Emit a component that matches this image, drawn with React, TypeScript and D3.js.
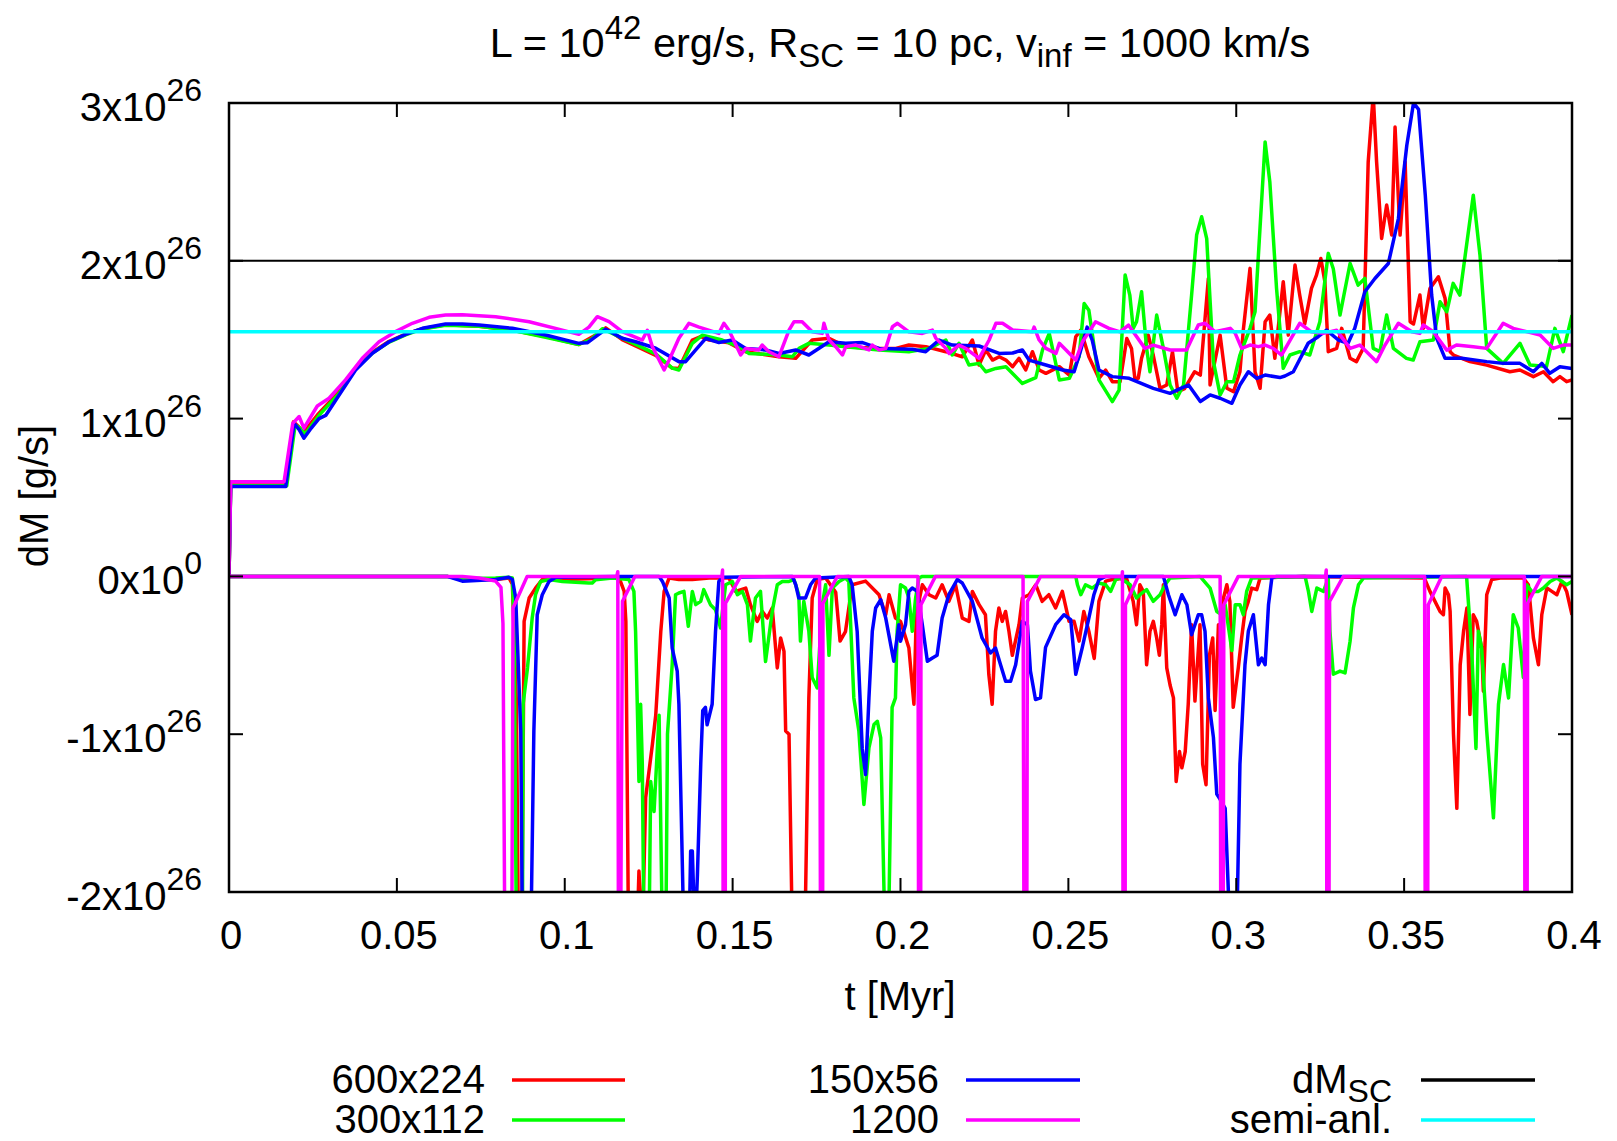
import React, { useEffect } from "react";
import * as d3 from "d3";

// ---------- data (t in Myr, dM in units of 1e26 g/s) ----------
const xTicks = [0, 0.05, 0.1, 0.15, 0.2, 0.25, 0.3, 0.35, 0.4];
const xTickLabels = ["0", "0.05", "0.1", "0.15", "0.2", "0.25", "0.3", "0.35", "0.4"];
const yTicks = [-2, -1, 0, 1, 2, 3];
const yTickMantissa = ["-2x10", "-1x10", "0x10", "1x10", "2x10", "3x10"];
const yTickExponent = ["26", "26", "0", "26", "26", "26"];

const dMSC = 2.0;
const semiAnl = 1.55;

const redPos: [number, number][] = [
  [0, 0], [0.0005, 0.58], [0.0169, 0.58], [0.0192, 0.98], [0.0207, 0.95], [0.0221, 0.91], [0.0266, 1.03],
  [0.0328, 1.17], [0.0377, 1.32], [0.0427, 1.42], [0.0477, 1.49], [0.0526, 1.535], [0.0576, 1.57],
  [0.0645, 1.595], [0.0745, 1.585], [0.0844, 1.56], [0.0943, 1.52], [0.1042, 1.47], [0.1092, 1.53],
  [0.1122, 1.575], [0.1171, 1.5], [0.1211, 1.46], [0.1271, 1.4], [0.132, 1.32], [0.134, 1.318],
  [0.138, 1.498], [0.1405, 1.519], [0.143, 1.498], [0.1489, 1.48], [0.1539, 1.424], [0.1638, 1.392],
  [0.1688, 1.382], [0.1737, 1.498], [0.1787, 1.509], [0.1837, 1.456], [0.1936, 1.445], [0.1986, 1.445],
  [0.2025, 1.466], [0.2075, 1.456], [0.2135, 1.424], [0.2184, 1.392], [0.2214, 1.498], [0.2234, 1.34],
  [0.2254, 1.435], [0.2274, 1.371], [0.2294, 1.392], [0.2314, 1.371], [0.2334, 1.329], [0.2353, 1.382],
  [0.2373, 1.308], [0.2393, 1.424], [0.2413, 1.308], [0.2433, 1.287], [0.2473, 1.329], [0.2503, 1.276],
  [0.2522, 1.519], [0.2537, 1.561], [0.2561, 1.392], [0.2591, 1.255], [0.2611, 1.308], [0.2631, 1.234],
  [0.2654, 1.234], [0.2674, 1.508], [0.2688, 1.445], [0.2698, 1.255], [0.2708, 1.255], [0.2718, 1.382],
  [0.2738, 1.529], [0.2753, 1.4], [0.2773, 1.192], [0.2793, 1.213], [0.281, 1.424], [0.2826, 1.171],
  [0.2846, 1.19], [0.2876, 1.297], [0.2893, 1.276], [0.2917, 1.888], [0.2922, 1.213], [0.2952, 1.529],
  [0.2972, 1.192], [0.2992, 1.171], [0.3011, 1.297], [0.3021, 1.561], [0.3041, 1.952], [0.3056, 1.297],
  [0.3071, 1.192], [0.3086, 1.614], [0.31, 1.656], [0.3115, 1.382], [0.314, 1.867], [0.3155, 1.529],
  [0.3175, 1.973], [0.3189, 1.783], [0.3204, 1.6], [0.3224, 1.825], [0.3239, 1.909], [0.3252, 2.015],
  [0.3264, 1.867], [0.3274, 1.424], [0.3299, 1.445], [0.3314, 1.572], [0.3339, 1.382], [0.3358, 1.361],
  [0.3378, 1.445], [0.3393, 2.627], [0.3408, 3.05], [0.3418, 2.627], [0.3433, 2.142], [0.3448, 2.353],
  [0.3463, 2.163], [0.3473, 2.848], [0.3488, 2.163], [0.3503, 2.627], [0.3518, 1.614], [0.3528, 1.6],
  [0.3547, 1.783], [0.3557, 1.572], [0.3577, 1.825], [0.3602, 1.899], [0.3622, 1.762], [0.3637, 1.424],
  [0.3647, 1.403], [0.3696, 1.361], [0.3746, 1.339], [0.3815, 1.297], [0.3845, 1.308], [0.3885, 1.266],
  [0.3915, 1.297], [0.3944, 1.234], [0.3964, 1.266], [0.3984, 1.234], [0.4, 1.245],
];

const redNeg: [number, number][] = [
  [0, 0], [0.065, 0], [0.0695, -0.02], [0.0794, -0.02], [0.0834, -0.01], [0.0844, -0.05], [0.0856, -0.8],
  [0.0862, -2.3], [0.0872, -2.3], [0.0879, -0.285], [0.0894, -0.137], [0.0913, -0.074], [0.0933, -0.02],
  [0.0953, -0.01], [0.0993, -0.02], [0.1142, -0.01], [0.1162, -0.01], [0.1177, -0.095], [0.1182, -0.285],
  [0.119, -2.3], [0.1215, -2.3], [0.1221, -1.867], [0.1231, -2.3], [0.1241, -1.403], [0.1261, -1.065],
  [0.1271, -0.88], [0.1286, -0.35], [0.1296, -0.095], [0.1311, -0.01], [0.134, -0.02],
  [0.138, -0.02], [0.143, -0.01], [0.1489, -0.01], [0.1509, -0.095], [0.1539, -0.074], [0.1553, -0.179],
  [0.1573, -0.285], [0.1588, -0.222], [0.1603, -0.264], [0.1618, -0.2], [0.1633, -0.58], [0.1643, -0.39],
  [0.1653, -0.475], [0.1658, -0.98], [0.1668, -1.0], [0.1678, -2.3], [0.1715, -2.3], [0.1727, -0.77],
  [0.1737, -0.137], [0.1752, -0.02], [0.1777, -0.01], [0.1807, -0.1], [0.182, -0.41], [0.1836, -0.35],
  [0.1856, -0.053], [0.1896, -0.03], [0.1936, -0.116], [0.1956, -0.243], [0.1966, -0.116], [0.1985, -0.264],
  [0.2, -0.285], [0.2025, -0.454], [0.204, -0.81], [0.2047, -0.243], [0.2065, -0.053], [0.2085, -0.116],
  [0.2105, -0.137], [0.2124, -0.053], [0.2144, -0.158], [0.2164, -0.053], [0.2184, -0.264], [0.2204, -0.285],
  [0.2214, -0.095], [0.2234, -0.179], [0.2253, -0.243], [0.2263, -0.62], [0.2273, -0.81], [0.2283, -0.348],
  [0.2293, -0.2], [0.2303, -0.285], [0.2313, -0.222], [0.2323, -0.348], [0.2333, -0.5], [0.2353, -0.306],
  [0.2363, -0.137], [0.2383, -0.116], [0.2403, -0.053], [0.2422, -0.158], [0.2442, -0.116], [0.2462, -0.2],
  [0.2482, -0.095], [0.2502, -0.285], [0.2517, -0.285], [0.2532, -0.41], [0.2546, -0.222], [0.2561, -0.348],
  [0.2577, -0.52], [0.2591, -0.158], [0.2611, -0.03], [0.2631, -0.02], [0.2673, -0.01], [0.2693, -0.158],
  [0.2703, -0.306], [0.2713, -0.053], [0.2723, -0.095], [0.2733, -0.56], [0.2743, -0.348], [0.2753, -0.285],
  [0.2763, -0.39], [0.2771, -0.5], [0.2778, -0.306], [0.2783, -0.053], [0.2793, -0.58], [0.2803, -0.69],
  [0.2813, -0.77], [0.2821, -1.3], [0.2831, -1.11], [0.2838, -1.213], [0.2848, -1.11], [0.2857, -0.81],
  [0.2867, -0.306], [0.2877, -0.79], [0.2892, -0.306], [0.29, -1.19], [0.291, -1.32], [0.292, -0.5],
  [0.293, -0.39], [0.2937, -0.85], [0.2947, -0.306], [0.2952, -0.348], [0.2962, -0.137], [0.2972, -0.053],
  [0.2981, -0.158], [0.2991, -0.83], [0.3006, -0.58], [0.3016, -0.39], [0.3026, -0.222], [0.3036, -0.158],
  [0.3046, -0.074], [0.3061, -0.084], [0.3071, -0.01], [0.32, 0], [0.356, -0.01], [0.3577, -0.095],
  [0.3607, -0.222], [0.3617, -0.243], [0.3622, -0.074], [0.3632, -0.116], [0.3637, -0.222], [0.3647, -1.0],
  [0.3657, -1.47], [0.3667, -0.56], [0.3677, -0.348], [0.3687, -0.2], [0.3696, -0.875], [0.3706, -0.243],
  [0.3716, -0.285], [0.3731, -0.454], [0.3736, -0.728], [0.3746, -0.116], [0.3761, -0.02], [0.3786, -0.01],
  [0.3855, -0.01], [0.387, -0.053], [0.3885, -0.39], [0.39, -0.56], [0.391, -0.243], [0.3925, -0.074],
  [0.394, -0.095], [0.3955, -0.116], [0.397, -0.032], [0.3984, -0.095], [0.4, -0.243],
];

const greenPos: [number, number][] = [
  [0, 0], [0.0005, 0.575], [0.0172, 0.575], [0.0197, 0.96], [0.0212, 0.94], [0.0226, 0.9], [0.0268, 1.02],
  [0.0328, 1.16], [0.0377, 1.315], [0.0427, 1.415], [0.0477, 1.485], [0.0526, 1.53], [0.0576, 1.568],
  [0.0645, 1.592], [0.0745, 1.585], [0.0844, 1.56], [0.0943, 1.515], [0.1042, 1.47], [0.1077, 1.5],
  [0.1112, 1.57], [0.1171, 1.51], [0.1211, 1.47], [0.1271, 1.41], [0.132, 1.32], [0.134, 1.308],
  [0.138, 1.477], [0.141, 1.529], [0.1469, 1.498], [0.1519, 1.456], [0.1549, 1.413], [0.1638, 1.403],
  [0.1678, 1.392], [0.1698, 1.445], [0.1727, 1.477], [0.1787, 1.466], [0.1837, 1.456], [0.1936, 1.435],
  [0.2025, 1.424], [0.2085, 1.445], [0.2135, 1.498], [0.2154, 1.403], [0.2174, 1.477], [0.2204, 1.34],
  [0.2234, 1.35], [0.2254, 1.297], [0.2284, 1.318], [0.2314, 1.329], [0.2363, 1.223], [0.2403, 1.26],
  [0.2423, 1.435], [0.2443, 1.54], [0.2473, 1.245], [0.2503, 1.255], [0.2532, 1.392], [0.2547, 1.73],
  [0.2561, 1.687], [0.2591, 1.245], [0.2631, 1.108], [0.2651, 1.18], [0.2669, 1.91], [0.2683, 1.783],
  [0.2693, 1.572], [0.2703, 1.614], [0.2718, 1.804], [0.2733, 1.445], [0.2743, 1.297], [0.2763, 1.656],
  [0.2783, 1.445], [0.2803, 1.213], [0.2823, 1.129], [0.2843, 1.213], [0.2867, 1.783], [0.2882, 2.163],
  [0.2897, 2.279], [0.2912, 2.14], [0.2932, 1.361], [0.2952, 1.15], [0.2972, 1.234], [0.2992, 1.234],
  [0.3011, 1.403], [0.3041, 1.572], [0.3056, 1.677], [0.3086, 2.753], [0.31, 2.5], [0.312, 1.825],
  [0.314, 1.319], [0.316, 1.403], [0.3189, 1.424], [0.3219, 1.403], [0.3249, 1.614], [0.3274, 2.047],
  [0.3289, 1.95], [0.3309, 1.656], [0.3339, 1.983], [0.3363, 1.846], [0.3383, 1.888], [0.3408, 1.445],
  [0.3428, 1.424], [0.3448, 1.656], [0.3468, 1.445], [0.3507, 1.382], [0.3527, 1.371], [0.3547, 1.487],
  [0.3587, 1.498], [0.3607, 1.741], [0.3627, 1.677], [0.3646, 1.857], [0.3666, 1.783], [0.3706, 2.416],
  [0.3726, 2.035], [0.3746, 1.445], [0.3795, 1.35], [0.3845, 1.477], [0.3875, 1.339], [0.3924, 1.33],
  [0.3949, 1.572], [0.3974, 1.424], [0.4, 1.656],
];

const greenNeg: [number, number][] = [
  [0, 0], [0.065, 0], [0.0695, -0.015], [0.0794, -0.01], [0.0834, -0.006], [0.0844, -0.01], [0.0849, -0.3],
  [0.0856, -2.3], [0.0874, -2.3], [0.0876, -0.81], [0.0889, -0.58], [0.0903, -0.264], [0.0913, -0.116],
  [0.0928, -0.032], [0.0953, -0.02], [0.0993, -0.032], [0.1072, -0.042], [0.1082, -0.042], [0.1092, -0.021],
  [0.1142, -0.01], [0.1191, -0.02], [0.1206, -0.095], [0.1211, -0.35], [0.1216, -0.81], [0.1221, -1.3],
  [0.1226, -0.81], [0.1231, -1.19], [0.1236, -2.3], [0.1251, -2.3], [0.1256, -1.3], [0.1266, -1.49],
  [0.1281, -0.88], [0.1291, -2.3], [0.1301, -2.3], [0.1306, -1.0], [0.132, -0.559], [0.133, -0.116],
  [0.134, -0.105], [0.1355, -0.095], [0.1368, -0.316], [0.138, -0.095], [0.139, -0.179], [0.1405, -0.158],
  [0.1414, -0.084], [0.1434, -0.179], [0.1449, -0.211], [0.1464, -0.327], [0.1479, -0.053], [0.1499, -0.032],
  [0.1514, -0.116], [0.1529, -0.095], [0.1544, -0.179], [0.1553, -0.41], [0.1568, -0.137], [0.1583, -0.095],
  [0.1598, -0.54], [0.1618, -0.222], [0.1633, -0.053], [0.1648, -0.032], [0.1668, -0.032], [0.1683, -0.021],
  [0.1697, -0.116], [0.1702, -0.41], [0.1712, -0.158], [0.1727, -0.348], [0.1737, -0.64], [0.1752, -0.707],
  [0.1767, -0.179], [0.1777, -0.053], [0.1787, -0.5], [0.1797, -0.074], [0.1817, -0.032], [0.1836, -0.01],
  [0.1846, -0.032], [0.1861, -0.77], [0.1876, -0.98], [0.1891, -1.445], [0.1906, -1.086], [0.1921, -0.939],
  [0.1931, -0.918], [0.1941, -1.023], [0.1954, -2.3], [0.1964, -2.3], [0.1975, -0.83], [0.1985, -0.77],
  [0.199, -0.348], [0.2, -0.053], [0.2015, -0.074], [0.2025, -0.137], [0.2035, -0.348], [0.2045, -0.137],
  [0.2055, -0.01], [0.2065, 0], [0.2522, 0], [0.2527, -0.053], [0.2537, -0.116], [0.2551, -0.053],
  [0.2571, -0.074], [0.2591, -0.042], [0.2611, -0.053], [0.2626, -0.095], [0.2641, -0.02], [0.2654, -0.01],
  [0.2684, -0.053], [0.2703, -0.137], [0.2713, -0.116], [0.2733, -0.084], [0.2753, -0.158], [0.2773, -0.116],
  [0.2788, -0.053], [0.2803, -0.01], [0.2892, 0], [0.2922, -0.074], [0.2942, -0.222], [0.2957, -0.243],
  [0.2967, -0.179], [0.2987, -0.47], [0.2997, -0.179], [0.3011, -0.179], [0.3021, -0.243], [0.3031, -0.095],
  [0.3046, -0.01], [0.3205, 0], [0.3215, -0.095], [0.3225, -0.222], [0.324, -0.074], [0.326, -0.095],
  [0.3274, -0.01], [0.3279, -0.348], [0.3289, -0.62], [0.3309, -0.6], [0.3324, -0.612], [0.3339, -0.411],
  [0.3349, -0.2], [0.3364, -0.053], [0.3379, -0.01], [0.3686, 0], [0.3701, -0.454], [0.3714, -1.09],
  [0.3721, -0.348], [0.3731, -0.454], [0.3746, -0.98], [0.3766, -1.53], [0.3781, -0.812], [0.3796, -0.559],
  [0.3811, -0.77], [0.3825, -0.243], [0.384, -0.327], [0.3855, -0.64], [0.3865, -0.053], [0.388, -0.095],
  [0.39, -0.095], [0.3915, -0.074], [0.3935, -0.032], [0.3955, -0.01], [0.3984, -0.053], [0.4, -0.032],
];

const bluePos: [number, number][] = [
  [0, 0], [0.0005, 0.57], [0.0169, 0.57], [0.0194, 0.97], [0.0209, 0.93], [0.0223, 0.876], [0.0245, 0.94],
  [0.0268, 1.0], [0.0288, 1.02], [0.0328, 1.15], [0.0377, 1.308], [0.0427, 1.414], [0.0477, 1.487],
  [0.0526, 1.534], [0.0576, 1.572], [0.0645, 1.599], [0.0695, 1.6], [0.0745, 1.593], [0.0844, 1.572],
  [0.0943, 1.53], [0.1042, 1.477], [0.1067, 1.48], [0.1092, 1.52], [0.1122, 1.566], [0.1171, 1.509],
  [0.1211, 1.487], [0.1271, 1.446], [0.134, 1.361], [0.136, 1.361], [0.139, 1.435], [0.142, 1.509],
  [0.1459, 1.482], [0.1499, 1.498], [0.1539, 1.445], [0.1598, 1.435], [0.1638, 1.413], [0.1688, 1.435],
  [0.1727, 1.403], [0.1787, 1.487], [0.1837, 1.477], [0.1887, 1.482], [0.1936, 1.445], [0.2035, 1.44],
  [0.2075, 1.424], [0.2115, 1.498], [0.2154, 1.466], [0.2234, 1.46], [0.2294, 1.413], [0.2334, 1.416],
  [0.2363, 1.435], [0.2383, 1.371], [0.2433, 1.34], [0.2483, 1.308], [0.2517, 1.297], [0.2537, 1.435],
  [0.2556, 1.58], [0.2571, 1.498], [0.2591, 1.308], [0.2631, 1.266], [0.2681, 1.255], [0.2753, 1.192],
  [0.2803, 1.16], [0.2833, 1.19], [0.2858, 1.213], [0.2893, 1.108], [0.2922, 1.15], [0.2952, 1.129],
  [0.2987, 1.097], [0.3011, 1.213], [0.3036, 1.297], [0.3061, 1.255], [0.3086, 1.276], [0.313, 1.26],
  [0.3145, 1.27], [0.317, 1.297], [0.3214, 1.477], [0.3244, 1.519], [0.3269, 1.561], [0.3304, 1.498],
  [0.3333, 1.477], [0.3353, 1.572], [0.3383, 1.804], [0.3413, 1.888], [0.3453, 1.983], [0.3483, 2.268],
  [0.3508, 2.732], [0.3528, 3.0], [0.3543, 2.96], [0.3563, 2.416], [0.3582, 1.783], [0.3597, 1.508],
  [0.3622, 1.382], [0.3672, 1.382], [0.3746, 1.361], [0.3795, 1.35], [0.3845, 1.35], [0.3885, 1.297],
  [0.391, 1.35], [0.3934, 1.287], [0.3964, 1.329], [0.4, 1.318],
];

const blueNeg: [number, number][] = [
  [0, 0], [0.065, 0], [0.0695, -0.03], [0.0794, -0.02], [0.0834, -0.006], [0.0844, -0.02], [0.0854, -0.137],
  [0.0869, -0.98], [0.0874, -2.3], [0.0899, -2.3], [0.0908, -0.98], [0.0918, -0.243], [0.0933, -0.116],
  [0.0953, -0.032], [0.0973, -0.006], [0.1148, 0], [0.1281, 0], [0.1291, -0.032], [0.1311, -0.137],
  [0.132, -0.454], [0.1335, -0.6], [0.134, -0.81], [0.1355, -2.3], [0.137, -2.3], [0.1375, -1.74],
  [0.138, -1.74], [0.1388, -2.3], [0.1395, -1.9], [0.1405, -1.19], [0.1411, -0.85], [0.1419, -0.83],
  [0.1424, -0.94], [0.1439, -0.81], [0.1449, -0.35], [0.1459, -0.032], [0.1469, -0.006], [0.1678, 0],
  [0.1688, -0.053], [0.1697, -0.137], [0.1717, -0.137], [0.1732, -0.053], [0.1747, -0.01], [0.1846, 0],
  [0.1856, -0.053], [0.1871, -0.35], [0.1886, -1.09], [0.1896, -1.255], [0.1906, -0.77], [0.1916, -0.348],
  [0.1926, -0.2], [0.1941, -0.148], [0.1956, -0.264], [0.198, -0.538], [0.1995, -0.306], [0.2, -0.411],
  [0.2015, -0.306], [0.2025, -0.095], [0.2035, -0.074], [0.205, -0.095], [0.2065, -0.306], [0.208, -0.538],
  [0.2095, -0.517], [0.2109, -0.5], [0.2124, -0.264], [0.2144, -0.116], [0.2169, -0.02], [0.2184, -0.042],
  [0.2214, -0.158], [0.2243, -0.39], [0.2268, -0.485], [0.2283, -0.454], [0.2298, -0.56], [0.2313, -0.665],
  [0.2328, -0.665], [0.2343, -0.56], [0.2363, -0.285], [0.2378, -0.306], [0.2387, -0.6], [0.2402, -0.78],
  [0.2417, -0.77], [0.2432, -0.45], [0.2462, -0.306], [0.2487, -0.243], [0.2507, -0.274], [0.2522, -0.62],
  [0.2541, -0.454], [0.2561, -0.264], [0.2576, -0.116], [0.2591, -0.02], [0.2611, 0], [0.2783, 0],
  [0.2798, -0.116], [0.2818, -0.243], [0.2838, -0.116], [0.2853, -0.18], [0.2867, -0.37], [0.2887, -0.243],
  [0.2897, -0.243], [0.2907, -0.348], [0.2917, -0.77], [0.2932, -1.02], [0.2942, -1.38], [0.2952, -1.413],
  [0.2967, -1.47], [0.2982, -2.3], [0.3001, -2.3], [0.3011, -1.19], [0.3026, -0.56], [0.3036, -0.348],
  [0.3051, -0.243], [0.3066, -0.56], [0.3076, -0.517], [0.3086, -0.56], [0.3096, -0.18], [0.3106, -0.01],
  [0.312, 0], [0.4, 0],
];

const magentaPos: [number, number][] = [
  [0, 0], [0.0005, 0.6], [0.0164, 0.6], [0.019, 0.97], [0.0209, 1.013], [0.0223, 0.94], [0.0263, 1.08],
  [0.0298, 1.129], [0.0347, 1.245], [0.0397, 1.382], [0.0447, 1.487], [0.0496, 1.551], [0.0546, 1.604],
  [0.0596, 1.642], [0.0645, 1.656], [0.0695, 1.658], [0.0794, 1.646], [0.0894, 1.614], [0.0993, 1.561],
  [0.1042, 1.534], [0.1072, 1.58], [0.1097, 1.646], [0.1132, 1.614], [0.1171, 1.551], [0.1231, 1.498],
  [0.1246, 1.56], [0.1261, 1.455], [0.1296, 1.308], [0.1311, 1.371], [0.134, 1.509], [0.137, 1.604],
  [0.14, 1.58], [0.1459, 1.54], [0.1474, 1.604], [0.1489, 1.56], [0.1524, 1.403], [0.1539, 1.445],
  [0.1578, 1.435], [0.1588, 1.466], [0.1608, 1.424], [0.1638, 1.392], [0.1668, 1.561], [0.1683, 1.614],
  [0.1707, 1.614], [0.1737, 1.55], [0.1767, 1.54], [0.1772, 1.604], [0.1787, 1.498], [0.1807, 1.456],
  [0.1827, 1.403], [0.1837, 1.456], [0.1867, 1.466], [0.1906, 1.435], [0.1916, 1.466], [0.1936, 1.435],
  [0.1956, 1.445], [0.1976, 1.582], [0.1991, 1.604], [0.2025, 1.55], [0.2065, 1.54], [0.2095, 1.561],
  [0.2105, 1.51], [0.2135, 1.445], [0.2145, 1.413], [0.2174, 1.466], [0.2194, 1.445], [0.2214, 1.413],
  [0.2234, 1.382], [0.2264, 1.498], [0.2284, 1.604], [0.2304, 1.604], [0.2334, 1.561], [0.2393, 1.55],
  [0.2398, 1.58], [0.2413, 1.498], [0.2433, 1.445], [0.2463, 1.413], [0.2473, 1.477], [0.2493, 1.435],
  [0.2522, 1.371], [0.2542, 1.487], [0.2581, 1.614], [0.2621, 1.572], [0.2654, 1.55], [0.2679, 1.593],
  [0.2693, 1.55], [0.2728, 1.445], [0.2753, 1.466], [0.2803, 1.435], [0.2852, 1.435], [0.2887, 1.593],
  [0.2907, 1.604], [0.2937, 1.55], [0.2982, 1.572], [0.2997, 1.54], [0.3016, 1.445], [0.3041, 1.466],
  [0.3066, 1.456], [0.3086, 1.466], [0.311, 1.445], [0.3135, 1.403], [0.3189, 1.604], [0.3224, 1.55],
  [0.3259, 1.54], [0.3299, 1.56], [0.3339, 1.445], [0.3368, 1.466], [0.3418, 1.361], [0.3443, 1.466],
  [0.3483, 1.604], [0.3523, 1.55], [0.3547, 1.54], [0.3557, 1.593], [0.3587, 1.55], [0.3627, 1.434],
  [0.3656, 1.466], [0.3706, 1.456], [0.3746, 1.445], [0.3795, 1.604], [0.3825, 1.572], [0.3885, 1.54],
  [0.3905, 1.53], [0.3944, 1.445], [0.3974, 1.466], [0.4, 1.466],
];

const magentaNeg: [number, number][] = [
  [0, 0], [0.0695, 0], [0.0745, -0.01], [0.0794, -0.03], [0.081, -0.07], [0.0816, -0.3], [0.0822, -2.5],
  [0.0842, -2.5], [0.0846, -0.2], [0.0888, 0],
  [0.1155, 0], [0.1158, 0.03], [0.116, -2.5], [0.1166, -2.5], [0.1172, -0.158], [0.1209, 0],
  [0.1468, 0], [0.147, 0.04], [0.1472, -2.5], [0.1478, -2.5], [0.1479, -0.17], [0.1524, 0],
  [0.1759, 0], [0.1762, -2.5], [0.1768, -2.5], [0.1769, -0.17], [0.1812, 0],
  [0.2052, 0], [0.2054, -2.5], [0.206, -2.5], [0.2061, -0.18], [0.2104, 0],
  [0.2365, 0], [0.2368, -2.5], [0.2376, -2.5], [0.2378, -0.158], [0.2417, 0],
  [0.266, 0], [0.2661, 0.03], [0.2663, -2.5], [0.2669, -2.5], [0.267, -0.18], [0.2708, 0],
  [0.2952, 0], [0.2954, -2.5], [0.2961, -2.5], [0.2963, -0.18], [0.3006, 0],
  [0.3266, 0], [0.3268, 0.04], [0.327, -2.5], [0.3276, -2.5], [0.3278, -0.158], [0.3319, 0],
  [0.3561, 0], [0.3563, -2.5], [0.357, -2.5], [0.3572, -0.18], [0.3612, 0],
  [0.3858, 0], [0.386, -2.5], [0.3866, -2.5], [0.3868, -0.17], [0.391, 0], [0.4, 0],
];

const legendLabels = ["600x224", "300x112", "150x56", "1200", "dM", "semi-anl."];
const legendColors = ["#ff0000", "#00ff00", "#0000ff", "#ff00ff", "#000000", "#00ffff"];

// ---------- layout ----------
const W = 1617;
const H = 1141;
const PL = 229, PR = 1572, PT = 103, PB = 892;
const FONT = "'Liberation Sans', Arial, Helvetica, sans-serif";
const FS = 40;
const SFS = 32;
const LW = 3.5;

export default function App() {
  useEffect(() => {
    document.body.style.margin = "0";
  }, []);

  const x = d3.scaleLinear().domain([0, 0.4]).range([PL, PR]);
  const y = d3.scaleLinear().domain([-2, 3]).range([PB, PT]);
  const line = d3
    .line<[number, number]>()
    .x((d) => x(d[0]))
    .y((d) => y(d[1]));

  const series: { data: [number, number][]; color: string }[] = [
    { data: redPos, color: legendColors[0] },
    { data: redNeg, color: legendColors[0] },
    { data: greenPos, color: legendColors[1] },
    { data: greenNeg, color: legendColors[1] },
    { data: bluePos, color: legendColors[2] },
    { data: blueNeg, color: legendColors[2] },
    { data: magentaPos, color: legendColors[3] },
    { data: magentaNeg, color: legendColors[3] },
  ];

  const tickLen = 14;

  const legendCols = [
    { tx: 485, lx1: 512, lx2: 625 },
    { tx: 939, lx1: 966, lx2: 1080 },
    { tx: 1392, lx1: 1421, lx2: 1535 },
  ];
  const legendRows = [1080, 1120];

  return (
    <svg
      width={W}
      height={H}
      viewBox={`0 0 ${W} ${H}`}
      style={{ position: "absolute", left: 0, top: 0, background: "#fff" }}
      fontFamily={FONT}
    >
      <rect x={0} y={0} width={W} height={H} fill="#fff" />
      <defs>
        <clipPath id="plotClip">
          <rect x={PL} y={PT} width={PR - PL} height={PB - PT} />
        </clipPath>
      </defs>

      {/* title */}
      <text x={900} y={57} fontSize={41.5} textAnchor="middle" fill="#000">
        L = 10
        <tspan fontSize={33} dy={-18}>42</tspan>
        <tspan dy={18}> erg/s, R</tspan>
        <tspan fontSize={33} dy={10}>SC</tspan>
        <tspan dy={-10}> = 10 pc, v</tspan>
        <tspan fontSize={33} dy={10}>inf</tspan>
        <tspan dy={-10}> = 1000 km/s</tspan>
      </text>

      {/* data */}
      <g clipPath="url(#plotClip)" fill="none">
        {series.map((s, i) => (
          <path key={i} d={line(s.data) || ""} stroke={s.color} strokeWidth={LW} strokeLinejoin="round" />
        ))}
        <line x1={PL} x2={PR} y1={y(dMSC)} y2={y(dMSC)} stroke="#000" strokeWidth={2} />
        <line x1={PL} x2={PR} y1={y(semiAnl)} y2={y(semiAnl)} stroke="#00ffff" strokeWidth={LW} />
      </g>

      {/* ticks */}
      <g stroke="#000" strokeWidth={2}>
        {xTicks.map((t, i) => (
          <g key={"xt" + i}>
            <line x1={x(t)} x2={x(t)} y1={PB} y2={PB - tickLen} />
            <line x1={x(t)} x2={x(t)} y1={PT} y2={PT + tickLen} />
          </g>
        ))}
        {yTicks.map((v, i) => (
          <g key={"yt" + i}>
            <line x1={PL} x2={PL + tickLen} y1={y(v)} y2={y(v)} />
            <line x1={PR} x2={PR - tickLen} y1={y(v)} y2={y(v)} />
          </g>
        ))}
      </g>

      {/* border */}
      <rect x={PL} y={PT} width={PR - PL} height={PB - PT} fill="none" stroke="#000" strokeWidth={2.5} />

      {/* x tick labels */}
      {xTicks.map((t, i) => (
        <text key={"xl" + i} x={x(t) + 2} y={949} fontSize={FS} textAnchor="middle" fill="#000">
          {xTickLabels[i]}
        </text>
      ))}

      {/* y tick labels */}
      {yTicks.map((v, i) => (
        <text key={"yl" + i} x={202} y={y(v) + 18} fontSize={FS} textAnchor="end" fill="#000">
          {yTickMantissa[i]}
          <tspan fontSize={SFS} dy={-20}>{yTickExponent[i]}</tspan>
        </text>
      ))}

      {/* axis titles */}
      <text x={900} y={1010} fontSize={FS} textAnchor="middle" fill="#000">
        t [Myr]
      </text>
      <text transform="translate(48,496) rotate(-90)" fontSize={FS} textAnchor="middle" fill="#000">
        dM [g/s]
      </text>

      {/* legend */}
      {legendLabels.map((lab, i) => {
        const col = legendCols[Math.floor(i / 2)];
        const ry = legendRows[i % 2];
        return (
          <g key={"lg" + i}>
            <text x={col.tx} y={ry + 13} fontSize={FS} textAnchor="end" fill="#000">
              {lab}
              {i === 4 ? (
                <tspan fontSize={SFS} dy={9}>SC</tspan>
              ) : null}
            </text>
            <line x1={col.lx1} x2={col.lx2} y1={ry} y2={ry} stroke={legendColors[i]} strokeWidth={LW} />
          </g>
        );
      })}
    </svg>
  );
}
